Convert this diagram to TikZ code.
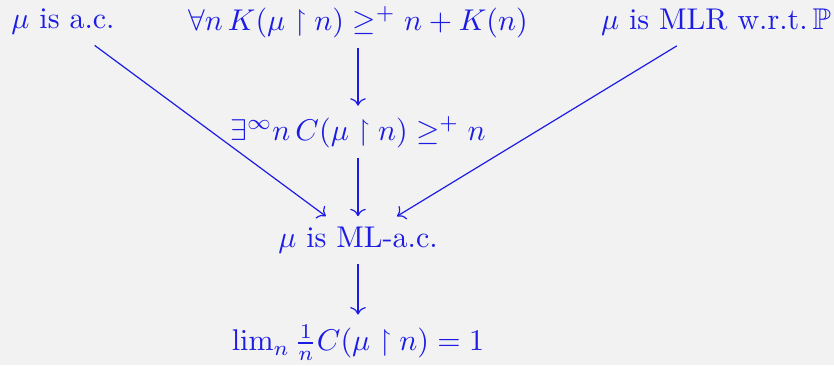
\documentclass[tikz,border=0pt]{standalone}
\usepackage{amsmath,amssymb}
\usetikzlibrary{arrows.meta,positioning}
\definecolor{implblue}{RGB}{28,28,228}
\definecolor{paper}{RGB}{242,242,242}

\begin{document}
\begin{tikzpicture}[x=0.3333pt,y=-0.3333pt,
    every node/.style={text=implblue},
    impl/.style={->,implblue}]
  \useasboundingbox[fill=paper] (0,0) rectangle (834,365);
  % top row
  \node (ac) at (63,22) {$\mu$ is a.c.};
  \node (kcompl) at (358,22) {$\forall n\, K(\mu\restriction n) \geq^+ n + K(n)$};
  \node (mlr) at (716,22) {$\mu$ is MLR w.r.t.$\,\mathbb{P}$};
  % middle column
  \node (ccompl) at (358,132) {$\exists^\infty n\, C(\mu\restriction n) \geq^+ n$};
  \node (mlac) at (358,240) {$\mu$ is ML-a.c.};
  \node (lim) at (358,343) {$\lim_n \frac{1}{n} C(\mu\restriction n) = 1$};
  \draw[impl] (kcompl) -- (ccompl);
  \draw[impl] (ccompl) -- (mlac);
  \draw[impl] (ac) -- (mlac);
  \draw[impl] (mlr) -- (mlac);
  \draw[impl] (mlac) -- (lim);
\end{tikzpicture}
\end{document}
